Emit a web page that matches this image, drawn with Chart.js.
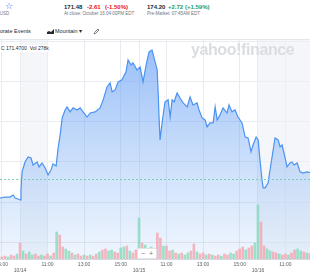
<!DOCTYPE html>
<html>
<head>
<meta charset="utf-8">
<script src="https://cdn.jsdelivr.net/npm/chart.js@4.4.1/dist/chart.umd.min.js"></script>
<style>
  html, body { margin: 0; padding: 0; background: #fff; }
  body { width: 310px; height: 280px; overflow: hidden; position: relative;
         font-family: "Liberation Sans", Arial, sans-serif; color: #232a31; }
  .t { position: absolute; white-space: nowrap; line-height: 1; }
  .b { font-weight: bold; }
  .red { color: #eb0f29; }
  .grn { color: #1a9c6b; }
  .gray { color: #6e7780; }
  #wrap { position: absolute; left: -20px; top: 40px; width: 340px; height: 240px; }
  #topline { position: absolute; left: 0; top: 39px; width: 310px; height: 1px; background: #e3e7ec; }
  #zoombox { position: absolute; left: 137px; top: 248px; width: 18px; height: 9px; background: #fff;
             border: 1px solid #e0e4e9; border-radius: 2px; font-size: 7px; color: #6e7780; line-height: 9px; }
</style>
</head>
<body>
<span class="t" style="left:5px;top:2px;font-size:9px;color:#0f69ff;font-family:'DejaVu Sans'">☆</span>
<span class="t gray" style="left:-4px;top:12px;font-size:4.5px">a USD</span>

<span class="t b" style="left:64px;top:4px;font-size:6px">171.48</span>
<span class="t b red" style="left:87px;top:4px;font-size:6px">-2.61</span>
<span class="t b red" style="left:105px;top:4px;font-size:6px">(-1.50%)</span>
<span class="t gray" style="left:64px;top:12px;font-size:4.5px">At close: October 16 04:00PM EDT</span>

<span class="t b" style="left:147px;top:4px;font-size:6px">174.20</span>
<span class="t b grn" style="left:168px;top:4px;font-size:6px">+2.72</span>
<span class="t b grn" style="left:185px;top:4px;font-size:6px">(+1.59%)</span>
<span class="t gray" style="left:147px;top:12px;font-size:4.5px">Pre-Market: 07:45AM EDT</span>

<span class="t" style="left:-12px;top:29px;font-size:5.5px">Corporate Events</span>
<svg class="t" style="left:47px;top:29px" width="7" height="5" viewBox="0 0 7 5">
  <path d="M0 5 L0 3 L2 2 L4 3 L7 0 L7 5 Z" fill="#232a31"/>
</svg>
<span class="t" style="left:55px;top:29px;font-size:5.5px">Mountain ▾</span>
<svg class="t" style="left:93px;top:28px" width="7" height="7" viewBox="0 0 7 7">
  <path d="M1 6 L1.5 4.5 L5 1 L6 2 L2.5 5.5 Z" fill="none" stroke="#464e56" stroke-width="0.7"/>
</svg>

<div id="topline"></div>
<div id="wrap"><canvas id="chart"></canvas></div>

<span class="t b" style="left:191px;top:42px;font-size:16px;color:#dadee3;letter-spacing:-0.4px">yahoo!finance</span>
<span class="t" style="left:0px;top:45px;font-size:5px;background:#fff;padding:1px 1px">C 171.4700 &nbsp;Vol 278k</span>
<div id="zoombox" class="t"><span style="position:absolute;left:3px">−</span><span style="position:absolute;left:11px">+</span></div>

<script>
// price line: trading hours since 10/14 09:30 (a session is 6.5 h)
const priceTimes = [
  -1.2, -1.09, -0.82, -0.55, -0.38, -0.27, -0.11, 0, 0.05, 0.11,
  0.27, 0.44, 0.60, 0.71, 0.93, 1.04, 1.20, 1.37, 1.53, 1.69,
  1.80, 1.97, 2.08, 2.19, 2.30, 2.46, 2.57, 2.73, 2.90, 3.11,
  3.28, 3.44, 3.66, 3.83, 4.10, 4.37, 4.54, 4.75, 4.92, 5.03,
  5.19, 5.36, 5.57, 5.79, 5.90, 6.07, 6.17, 6.39, 6.56, 6.72,
  6.89, 7.05, 7.21, 7.38, 7.49, 7.54, 7.60, 7.65, 7.76, 7.92,
  8.09, 8.20, 8.31, 8.42, 8.58, 8.74, 8.91, 9.13, 9.29, 9.45,
  9.67, 9.78, 9.95, 10.11, 10.22, 10.38, 10.55, 10.66, 10.77, 10.93,
  11.09, 11.31, 11.42, 11.58, 11.75, 11.91, 12.13, 12.30, 12.46, 12.62,
  12.73, 12.90, 13.01, 13.11, 13.22, 13.28, 13.39, 13.55, 13.66, 13.83,
  13.93, 14.10, 14.21, 14.32, 14.48, 14.59, 14.75, 14.86, 14.97, 15.14,
  15.30, 15.46, 15.68, 15.96
];
const prices = [
  169.75, 169.75, 169.81, 169.81, 169.94, 169.75, 169.69, 169.63, 170.25, 171.38,
  172.00, 172.31, 172.25, 171.81, 172.00, 171.69, 171.94, 171.63, 171.19, 171.50,
  171.88, 171.75, 172.88, 173.69, 174.75, 175.25, 175.44, 175.13, 175.38, 175.25,
  175.38, 175.13, 174.81, 175.06, 175.13, 175.38, 175.88, 176.69, 176.94, 176.38,
  176.50, 177.00, 177.13, 177.63, 178.38, 178.06, 178.19, 177.75, 177.94, 177.00,
  178.06, 178.88, 179.00, 178.25, 177.75, 176.50, 174.63, 173.38, 174.44, 175.75,
  175.88, 174.81, 175.88, 175.75, 176.31, 176.00, 175.69, 175.44, 176.06, 175.56,
  175.69, 175.25, 174.75, 174.63, 174.19, 174.44, 174.44, 175.44, 174.63, 174.94,
  175.38, 175.06, 175.56, 175.13, 175.25, 174.81, 174.44, 173.56, 173.50, 172.63,
  173.06, 173.56, 173.38, 172.13, 170.88, 170.38, 170.38, 170.69, 171.50, 172.75,
  173.50, 173.38, 172.94, 173.06, 172.25, 171.69, 171.94, 172.00, 171.81, 171.94,
  171.38, 171.31, 171.38, 171.31
];
const refLine = 170.94;

// 10-minute volume bars (thousand shares), first bar is 10/13 14:50
const volStart = -7 / 6;
const volumes = [
  3, 2, 3, 2, 4, 3, 5, 16, 8, 5,
  7, 4, 5, 3, 4, 3, 5, 3, 6, 27,
  24, 12, 10, 8, 6, 4, 5, 3, 4, 3,
  4, 3, 5, 7, 9, 10, 8, 9, 7, 6,
  11, 12, 13, 8, 6, 9, 41, 16, 14, 10,
  12, 9, 26, 21, 13, 13, 8, 9, 6, 5,
  6, 4, 6, 8, 15, 7, 5, 6, 4, 5,
  4, 3, 4, 3, 5, 4, 6, 5, 8, 10,
  12, 9, 11, 13, 16, 54, 37, 13, 10, 8,
  7, 6, 5, 4, 5, 4, 6, 9, 10, 8,
  7, 6, 5
];
const volDirs =
  'udduddudud' + 'uudduddudu' + 'dduududdud' + 'uddudduudd' + 'uududdudud' +
  'uudduddudu' + 'duudduddud' + 'uddudduudd' + 'dudduudduu' + 'dduddudduu' + 'dud';

const tickVals = [-1, 0, 1.5, 3.5, 5.5, 6.5, 8, 10, 12, 13, 14.5];
const tickLabels = ['15:00', ['', '10/14'], '11:00', '13:00', '15:00', ['', '10/15'],
                    '11:00', '13:00', '15:00', ['', '10/16'], '11:00'];
const priceTicks = [167, 169.5, 172, 174.5, 177, 179.5];
const shadeBands = [[0, 1.5], [13, 16.5]];

const linePts = priceTimes.map((t, i) => ({ x: t, y: prices[i] }));
const volPts = volumes.map((v, i) => ({ x: volStart + i / 6, y: v }));
const volColors = volumes.map((v, i) => volDirs[i] === 'u' ? 'rgba(128,216,184,0.75)' : 'rgba(244,160,170,0.75)');

const extras = {
  id: 'extras',
  beforeDatasetsDraw(chart) {
    const { ctx, chartArea, scales } = chart;
    ctx.save();
    ctx.fillStyle = 'rgba(236,240,245,0.6)';
    shadeBands.forEach(([a, b]) => {
      const x1 = scales.x.getPixelForValue(a);
      const x2 = scales.x.getPixelForValue(b);
      ctx.fillRect(x1, chartArea.top, x2 - x1, chartArea.bottom - chartArea.top);
    });
    ctx.restore();
  },
  afterDatasetsDraw(chart) {
    const { ctx, chartArea, scales } = chart;
    const y = Math.round(scales.y.getPixelForValue(refLine)) + 0.5;
    ctx.save();
    ctx.strokeStyle = '#7ccdb8';
    ctx.lineWidth = 1;
    ctx.setLineDash([2, 2]);
    ctx.beginPath();
    ctx.moveTo(chartArea.left, y);
    ctx.lineTo(chartArea.right, y);
    ctx.stroke();
    ctx.restore();
  }
};

new Chart(document.getElementById('chart'), {
  type: 'line',
  data: {
    datasets: [
      {
        type: 'bar',
        data: volPts,
        yAxisID: 'v',
        backgroundColor: volColors,
        barThickness: 2,
        order: 0
      },
      {
        type: 'line',
        data: linePts,
        yAxisID: 'y',
        borderColor: '#4a93f3',
        borderWidth: 1.2,
        pointRadius: 0,
        tension: 0,
        fill: 'start',
        order: 1,
        backgroundColor: (c) => {
          const area = c.chart.chartArea;
          if (!area) return 'rgba(120,170,245,0.3)';
          const g = c.chart.ctx.createLinearGradient(0, area.top, 0, area.bottom);
          g.addColorStop(0, 'rgba(105,160,245,0.7)');
          g.addColorStop(1, 'rgba(130,180,245,0.12)');
          return g;
        }
      }
    ]
  },
  options: {
    responsive: true,
    maintainAspectRatio: false,
    animation: false,
    layout: { padding: 0 },
    plugins: { legend: { display: false }, tooltip: { enabled: false } },
    scales: {
      x: {
        type: 'linear',
        offset: false,
        min: -2.19,
        max: 16.39,
        afterBuildTicks: (s) => { s.ticks = tickVals.map(v => ({ value: v })); },
        afterFit: (s) => { s.height = 21; },
        ticks: {
          autoSkip: false,
          maxRotation: 0,
          padding: 3,
          color: '#5b636a',
          font: { size: 5, family: 'Liberation Sans' },
          callback: (v) => tickLabels[tickVals.indexOf(v)]
        },
        grid: { color: '#e8ebef', drawTicks: false, offset: false },
        border: { color: '#d5dae0' }
      },
      y: {
        min: 165.94,
        max: 179.62,
        afterBuildTicks: (s) => { s.ticks = priceTicks.map(v => ({ value: v })); },
        afterFit: (s) => { s.width = 0; },
        ticks: { display: false },
        grid: { color: '#e8ebef', drawTicks: false },
        border: { display: false }
      },
      v: {
        display: false,
        min: 0,
        max: 219
      }
    }
  },
  plugins: [extras]
});
</script>
</body>
</html>
